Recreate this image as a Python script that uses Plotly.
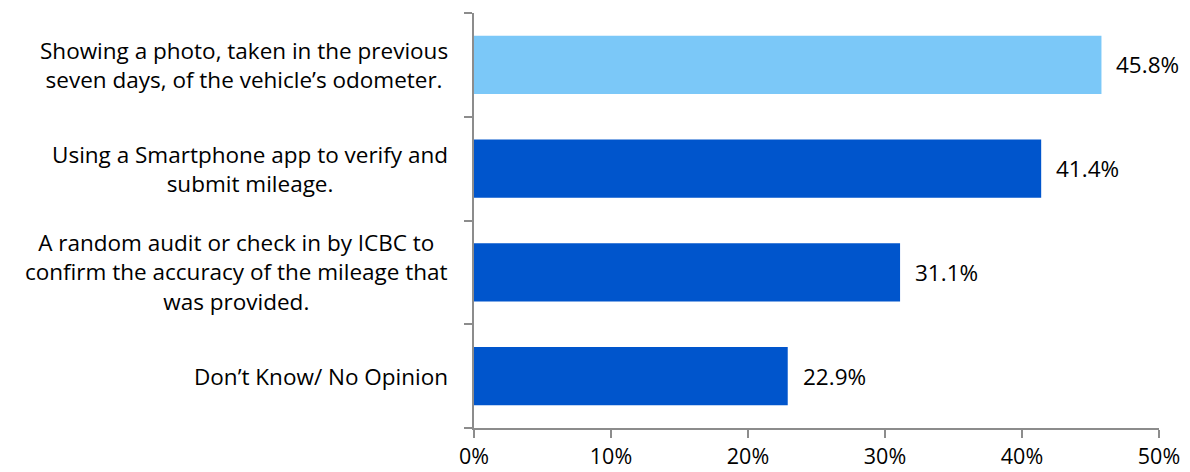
import plotly.graph_objects as go

categories = [
    "Showing a photo, taken in the previous<br>seven days, of the vehicle\u2019s odometer.",
    "Using a Smartphone app to verify and<br>submit mileage.",
    "A random audit or check in by ICBC to<br>confirm the accuracy of the mileage that<br>was provided.",
    "Don\u2019t Know/ No Opinion",
]
values = [45.8, 41.4, 31.1, 22.9]
bar_colors = ["#7BC8F8", "#0055CC", "#0055CC", "#0055CC"]
x_ticks = [0, 10, 20, 30, 40, 50]
x_tick_labels = ["0%", "10%", "20%", "30%", "40%", "50%"]

FONT = "'Open Sans', sans-serif"
FONT_SIZE = 22.5
AXIS = "#8C8C8C"

positions = list(range(len(categories)))

fig = go.Figure(
    go.Bar(
        x=values,
        y=positions,
        orientation="h",
        marker=dict(color=bar_colors, line=dict(width=0)),
        width=0.56,
        hoverinfo="skip",
    )
)

# value labels just past the end of each bar
for p, v in zip(positions, values):
    fig.add_annotation(
        x=v, y=p, text=f"{v:.1f}%", showarrow=False,
        xanchor="left", xshift=13,
        font=dict(family=FONT, size=FONT_SIZE, color="#000000"),
    )

# category labels, centred line by line, right edge left of the axis
for p, c in zip(positions, categories):
    fig.add_annotation(
        x=0, y=p, xref="x", yref="y", text=c, showarrow=False,
        xanchor="right", xshift=-24, align="center",
        font=dict(family=FONT, size=FONT_SIZE, color="#000000"),
    )

fig.update_layout(
    width=1190, height=472,
    margin=dict(l=474, r=31, t=13, b=44),
    paper_bgcolor="white", plot_bgcolor="white",
    showlegend=False,
    xaxis=dict(
        range=[0, 50], tickvals=x_ticks, ticktext=x_tick_labels,
        showgrid=False, zeroline=False, automargin=False,
        showline=True, linecolor=AXIS, linewidth=2,
        ticks="outside", ticklen=8, tickwidth=2, tickcolor=AXIS,
        tickfont=dict(family=FONT, size=21.5, color="#000000"),
        ticklabelstandoff=0,
        fixedrange=True,
    ),
    yaxis=dict(
        range=[len(categories) - 0.5, -0.5],
        tickvals=[i - 0.5 for i in range(len(categories) + 1)],
        ticktext=[""] * (len(categories) + 1),
        showgrid=False, zeroline=False, automargin=False,
        showline=True, linecolor=AXIS, linewidth=2,
        ticks="outside", ticklen=8, tickwidth=2, tickcolor=AXIS,
        fixedrange=True,
    ),
)

fig.write_html("out.html")
